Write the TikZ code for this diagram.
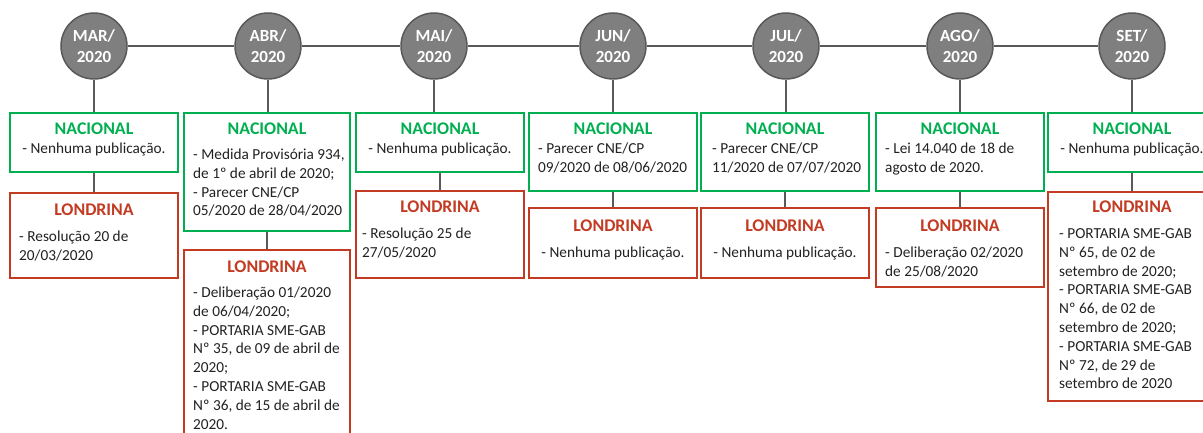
\documentclass[tikz,border=0pt]{standalone}
\usepackage{fontspec}
\setmainfont{Carlito}
\definecolor{gr}{HTML}{00B050}
\definecolor{rd}{HTML}{C23B22}
\definecolor{cg}{HTML}{7F7F7F}
\definecolor{lg}{HTML}{595959}
\definecolor{tx}{HTML}{222222}
\newcommand\blines[1]{\begin{tabular}[t]{@{}l@{}}#1\end{tabular}}
\tikzset{
 month/.style={circle, fill=cg, draw=lg, line width=1.5pt, minimum size=66pt, inner sep=0pt, text=white, font=\fontsize{17}{21.5}\selectfont\bfseries, align=center},
 gbox/.style={draw=gr, line width=2pt, minimum width=168pt, inner sep=0pt, fill=white},
 rbox/.style={draw=rd, line width=2pt, minimum width=168pt, inner sep=0pt, fill=white},
 gtitle/.style={text=gr, font=\fontsize{17.8}{21}\selectfont\bfseries, anchor=base, inner sep=0pt},
 rtitle/.style={text=rd, font=\fontsize{17.8}{21}\selectfont\bfseries, anchor=base, inner sep=0pt},
 bodyl/.style={text=tx, font=\fontsize{15.3}{18.8}\selectfont, anchor=base west, inner sep=0pt},
 bodyc/.style={text=tx, font=\fontsize{15.3}{18.8}\selectfont, anchor=base, inner sep=0pt},
 link/.style={draw=lg, line width=2pt}
}
\begin{document}
\begin{tikzpicture}[x=1pt,y=1pt]
\useasboundingbox (0,0) rectangle (1203,-433);
\clip (0,0) rectangle (1203,-433);
% month circles
\node[month] (c1) at (94,-46) {MAR/\\2020};
\node[month] (c2) at (268,-46) {ABR/\\2020};
\node[month] (c3) at (434,-46) {MAI/\\2020};
\node[month] (c4) at (613,-46) {JUN/\\2020};
\node[month] (c5) at (786,-46) {JUL/\\2020};
\node[month] (c6) at (960,-46) {AGO/\\2020};
\node[month] (c7) at (1132,-46) {SET/\\2020};
% boxes
\node[gbox, minimum height=59pt] (g1) at (94,-142.5) {};
\node[rbox, minimum height=85pt] (r1) at (94,-235.5) {};
\node[gbox, minimum height=118pt, minimum width=166pt] (g2) at (267,-172) {};
\node[rbox, minimum height=195pt, minimum width=166pt] (r2) at (267,-347.5) {};
\node[gbox, minimum height=59pt] (g3) at (440,-142.5) {};
\node[rbox, minimum height=87pt] (r3) at (440,-234.5) {};
\node[gbox, minimum height=78pt] (g4) at (613,-152) {};
\node[rbox, minimum height=70pt] (r4) at (613,-243) {};
\node[gbox, minimum height=78pt] (g5) at (785,-152) {};
\node[rbox, minimum height=70pt] (r5) at (785,-243) {};
\node[gbox, minimum height=78pt] (g6) at (960,-152) {};
\node[rbox, minimum height=79pt] (r6) at (960,-247.5) {};
\node[gbox, minimum height=59pt] (g7) at (1132,-142.5) {};
\node[rbox, minimum height=209pt] (r7) at (1132,-296.5) {};
% connectors
\draw[link] (c1.east) -- (c2.west);
\draw[link] (c2.east) -- (c3.west);
\draw[link] (c3.east) -- (c4.west);
\draw[link] (c4.east) -- (c5.west);
\draw[link] (c5.east) -- (c6.west);
\draw[link] (c6.east) -- (c7.west);
\foreach \i in {1,...,7}{
  \draw[link] (c\i.south) -- (c\i.south |- g\i.north);
  \draw[link] (g\i.south) -- (r\i.north);
}
% MAR
\node[gtitle] (t1) at (94,-134.7) {NACIONAL};
\node[bodyc] (b1) at (94,-153.5) {- Nenhuma publicação.};
\node[rtitle] (u1) at (94,-215.7) {LONDRINA};
\node[bodyl] (l1) at (19,-241.5) {\blines{- Resolução 20 de\\20/03/2020}};
% ABR
\node[gtitle] (t2) at (267,-134.7) {NACIONAL};
\node[bodyl] (b2) at (193,-159.5) {\blines{- Medida Provisória 934,\\de 1º de abril de 2020;\\- Parecer CNE/CP\\05/2020 de 28/04/2020}};
\node[rtitle] (u2) at (267,-272.7) {LONDRINA};
\node[bodyl] (l2) at (193,-297.5) {\blines{- Deliberação 01/2020\\de 06/04/2020;\\- PORTARIA SME-GAB\\Nº 35, de 09 de abril de\\2020;\\- PORTARIA SME-GAB\\Nº 36, de 15 de abril de\\2020.}};
% MAI
\node[gtitle] (t3) at (440,-134.7) {NACIONAL};
\node[bodyc] (b3) at (440,-153.5) {- Nenhuma publicação.};
\node[rtitle] (u3) at (440,-212.7) {LONDRINA};
\node[bodyl] (l3) at (362,-238.5) {\blines{- Resolução 25 de\\27/05/2020}};
% JUN
\node[gtitle] (t4) at (613,-134.7) {NACIONAL};
\node[bodyl] (b4) at (538,-153.5) {\blines{- Parecer CNE/CP\\09/2020 de 08/06/2020}};
\node[rtitle] (u4) at (613,-231.7) {LONDRINA};
\node[bodyc] (l4) at (613,-257.5) {- Nenhuma publicação.};
% JUL
\node[gtitle] (t5) at (785,-134.7) {NACIONAL};
\node[bodyl] (b5) at (712,-153.5) {\blines{- Parecer CNE/CP\\11/2020 de 07/07/2020}};
\node[rtitle] (u5) at (785,-231.7) {LONDRINA};
\node[bodyc] (l5) at (785,-257.5) {- Nenhuma publicação.};
% AGO
\node[gtitle] (t6) at (960,-134.7) {NACIONAL};
\node[bodyl] (b6) at (885,-153.5) {\blines{- Lei 14.040 de 18 de\\agosto de 2020.}};
\node[rtitle] (u6) at (960,-231.7) {LONDRINA};
\node[bodyl] (l6) at (885,-257.5) {\blines{- Deliberação 02/2020\\de 25/08/2020}};
% SET
\node[gtitle] (t7) at (1132,-134.7) {NACIONAL};
\node[bodyc] (b7) at (1132,-153.5) {- Nenhuma publicação.};
\node[rtitle] (u7) at (1132,-212.7) {LONDRINA};
\node[bodyl] (l7) at (1059,-238.5) {\blines{- PORTARIA SME-GAB\\Nº 65, de 02 de\\setembro de 2020;\\- PORTARIA SME-GAB\\Nº 66, de 02 de\\setembro de 2020;\\- PORTARIA SME-GAB\\Nº 72, de 29 de\\setembro de 2020}};
\end{tikzpicture}
\end{document}
